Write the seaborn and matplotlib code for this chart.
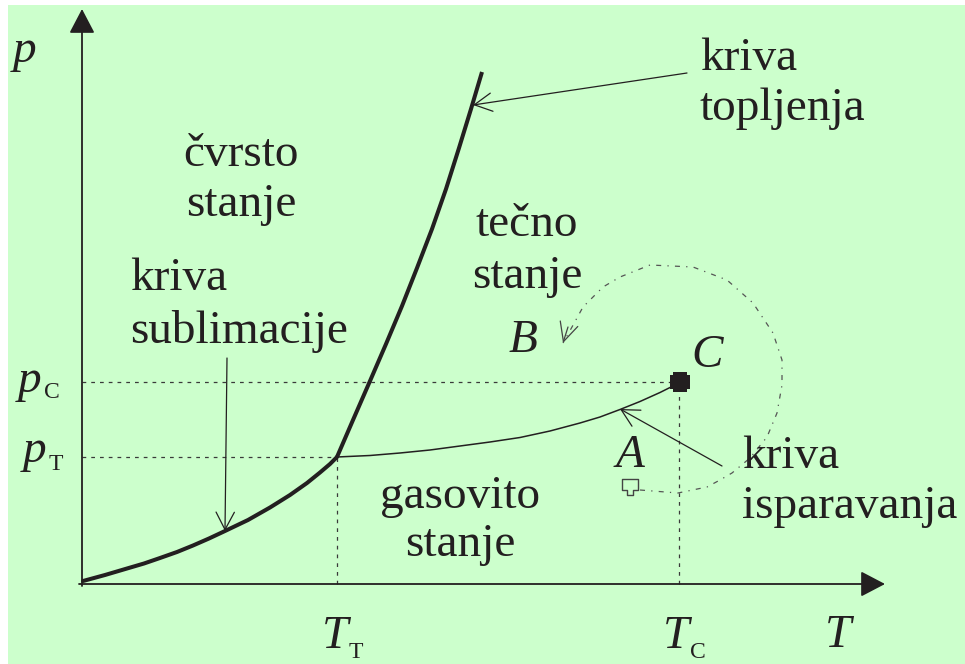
import matplotlib
matplotlib.use("Agg")
import matplotlib.pyplot as plt
from matplotlib.path import Path
import pandas as pd
import seaborn as sns

# Phase diagram: temperature T (x) vs pressure p (y), arbitrary units
sublimation_T = [0.01, 0.23, 0.45, 0.62, 0.78, 0.95, 1.11, 1.27, 1.43, 1.66,
                 1.88, 2.08, 2.25, 2.38, 2.48, 2.55]
sublimation_p = [0.03, 0.09, 0.155, 0.205, 0.26, 0.32, 0.385, 0.455, 0.53,
                 0.64, 0.765, 0.89, 1.01, 1.115, 1.20, 1.27]

melting_T = [2.55, 2.71, 2.88, 3.04, 3.20, 3.35, 3.50, 3.64, 3.77, 3.89, 4.00]
melting_p = [1.27, 1.64, 2.03, 2.40, 2.78, 3.16, 3.55, 3.95, 4.36, 4.75, 5.12]

vapor_T = [2.55, 2.88, 3.18, 3.48, 3.78, 4.08, 4.38, 4.68, 4.98, 5.18, 5.38,
           5.58, 5.78, 5.97]
vapor_p = [1.27, 1.285, 1.31, 1.34, 1.38, 1.42, 1.465, 1.53, 1.61, 1.67,
           1.745, 1.825, 1.915, 2.01]

# Triple point and critical point
T_triple, p_triple = 2.55, 1.27
T_crit, p_crit = 5.97, 2.02

# Path A -> B going around the critical point
path_T = [5.58, 5.96, 6.25, 6.38, 6.50, 6.68, 6.85, 6.95, 7.00, 7.00, 6.91,
          6.71, 6.45, 6.11, 5.68, 5.38, 5.21, 5.01, 4.90, 4.81]
path_p = [0.94, 0.91, 0.97, 1.04, 1.11, 1.26, 1.47, 1.71, 1.99, 2.24, 2.51,
          2.81, 3.04, 3.17, 3.19, 3.07, 2.97, 2.77, 2.57, 2.41]
state_A = (5.48, 0.97)

INK = "#231F20"
BG = "#CCFFCC"
SERIF = "Liberation Serif"
FS = 34
FS_SUB = 17

fig = plt.figure(figsize=(9.65, 6.64), dpi=100, facecolor="white")
ax = fig.add_axes([8 / 965, 0, 957 / 965, 659 / 664])
ax.set_facecolor(BG)
ax.set_xlim(-0.74, 8.83)
ax.set_ylim(-0.80, 5.79)
ax.axis("off")
ax.add_patch(plt.Rectangle((0, 0), 1, 1, transform=ax.transAxes,
                           facecolor=BG, edgecolor="none", zorder=0))

# Phase boundaries
sns.lineplot(data=pd.DataFrame({"T": sublimation_T, "p": sublimation_p}),
             x="T", y="p", ax=ax, color=INK, lw=2.9, sort=False,
             estimator=None, solid_capstyle="round", solid_joinstyle="round",
             zorder=4)
sns.lineplot(data=pd.DataFrame({"T": melting_T, "p": melting_p}),
             x="T", y="p", ax=ax, color=INK, lw=2.9, sort=False,
             estimator=None, solid_capstyle="butt", solid_joinstyle="round",
             zorder=4)
sns.lineplot(data=pd.DataFrame({"T": vapor_T, "p": vapor_p}),
             x="T", y="p", ax=ax, color=INK, lw=1.1, sort=False,
             estimator=None, solid_joinstyle="round", zorder=4)

# Guide lines to the axes
guide = dict(color="#3a3a3a", lw=0.9, ls=(0, (3, 4)), zorder=2)
ax.plot([0, T_crit], [p_crit, p_crit], **guide)
ax.plot([0, T_triple], [p_triple, p_triple], **guide)
ax.plot([T_triple, T_triple], [0, p_triple], **guide)
ax.plot([T_crit, T_crit], [0, p_crit], **guide)

# Path from A to B
sns.lineplot(data=pd.DataFrame({"T": path_T, "p": path_p}),
             x="T", y="p", ax=ax, color="#555555", lw=0.9, sort=False,
             estimator=None, linestyle=(0, (4, 5, 1, 5)), zorder=3)
ax.annotate("", xy=(path_T[-1], path_p[-1]),
            xytext=(path_T[-1] + 0.05, path_p[-1] + 0.16),
            arrowprops=dict(arrowstyle="->,head_length=0.45,head_width=0.22",
                            mutation_scale=30, lw=0.9, color="#444444",
                            shrinkA=0, shrinkB=0))

# State markers
house = Path([(-1, 1), (1, 1), (1, -0.35), (0.45, -0.35), (0.45, -1),
              (-0.45, -1), (-0.45, -0.35), (-1, -0.35), (-1, 1)], closed=True)
ax.plot(*state_A, marker=house, markersize=11, markerfacecolor=BG,
        markeredgecolor="#444444", markeredgewidth=1.0, zorder=5)
blob = Path([(-0.7, 1), (0.7, 1), (0.7, 0.75), (1, 0.75), (1, -0.75),
             (0.7, -0.75), (0.7, -1), (-0.7, -1), (-0.7, -0.75), (-1, -0.75),
             (-1, 0.75), (-0.7, 0.75), (-0.7, 1)], closed=True)
ax.plot(T_crit + 0.01, p_crit, marker=blob, markersize=14, color=INK,
        markeredgewidth=0, zorder=6)

# Axes with arrow heads
axis_arrow = dict(arrowstyle="-|>,head_length=0.42,head_width=0.22",
                  mutation_scale=36, lw=1.3, color=INK, shrinkA=0, shrinkB=0)
ax.annotate("", xy=(8.03, 0), xytext=(-0.03, 0), arrowprops=axis_arrow)
ax.annotate("", xy=(0, 5.75), xytext=(0, -0.02), arrowprops=axis_arrow)

# Pointer arrows to the curves
pointer = dict(arrowstyle="->,head_length=0.42,head_width=0.22",
               mutation_scale=30, lw=0.9, color=INK, shrinkA=0, shrinkB=0)
ax.annotate("", xy=(3.91, 4.79), xytext=(6.05, 5.11), arrowprops=pointer)
ax.annotate("", xy=(1.43, 0.53), xytext=(1.45, 2.26), arrowprops=pointer)
ax.annotate("", xy=(5.38, 1.75), xytext=(6.40, 1.18), arrowprops=pointer)


def label(x, y, s, ha="left", size=FS, style="normal"):
    ax.text(x, y, s, ha=ha, va="baseline", fontsize=size, color=INK,
            family=SERIF, style=style, zorder=7)


# Axis symbols
label(-0.69, 5.22, "p", style="italic")
label(-0.64, 1.92, "p", style="italic")
label(-0.38, 1.86, "C", size=FS_SUB)
label(-0.59, 1.22, "p", style="italic")
label(-0.33, 1.14, "T", size=FS_SUB)
label(2.40, -0.64, "T", style="italic")
label(2.67, -0.74, "T", size=FS_SUB)
label(5.81, -0.64, "T", style="italic")
label(6.08, -0.74, "C", size=FS_SUB)
label(7.43, -0.63, "T", style="italic")

# Region and curve names
label(1.59, 4.18, "čvrsto", ha="center")
label(1.59, 3.68, "stanje", ha="center")
label(4.45, 3.48, "tečno", ha="center")
label(4.45, 2.96, "stanje", ha="center")
label(3.78, 0.76, "gasovito", ha="center")
label(3.78, 0.28, "stanje", ha="center")
label(6.18, 5.14, "kriva")
label(6.18, 4.64, "topljenja")
label(0.48, 2.94, "kriva")
label(0.48, 2.41, "sublimacije")
label(6.60, 1.16, "kriva")
label(6.60, 0.66, "isparavanja")

# Points A, B, C
label(5.48, 1.17, "A", ha="center", style="italic")
label(4.41, 2.32, "B", ha="center", style="italic")
label(6.25, 2.17, "C", ha="center", style="italic")

fig.savefig("out.png", dpi=100, facecolor="white")
